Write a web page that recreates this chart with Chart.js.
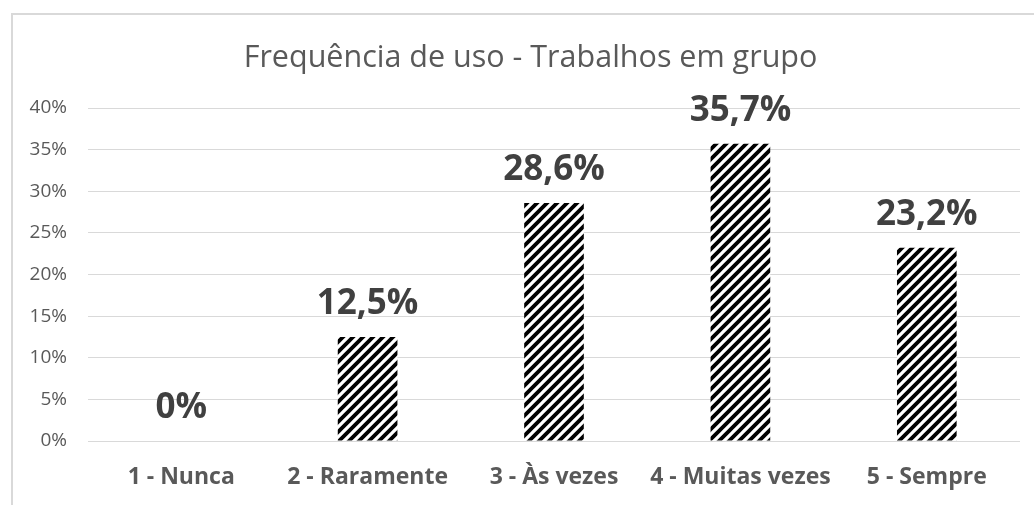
<!DOCTYPE html>
<html>
<head>
<meta charset="utf-8">
<script src="https://cdn.jsdelivr.net/npm/chart.js@4"></script>
<style>
html, body { margin: 0; padding: 0; background: #fff; }
#wrap { position: relative; width: 1034px; height: 505px; overflow: hidden; }
#frame { position: absolute; left: 11px; top: 13px; width: 1040px; height: 520px;
  border-top: 2px solid #d9d9d9; border-left: 2px solid #d9d9d9; box-sizing: border-box; }
canvas { position: absolute; left: 0; top: 0; }
</style>
</head>
<body>
<div id="wrap">
  <div id="frame"></div>
  <canvas id="chart1" width="1034" height="505"></canvas>
</div>
<script>
const chartTitle = 'Frequência de uso - Trabalhos em grupo';
const categories = ['1 - Nunca', '2 - Raramente', '3 - Às vezes', '4 - Muitas vezes', '5 - Sempre'];
const percentages = [0, 12.5, 28.6, 35.7, 23.2];
const valueLabels = ['0%', '12,5%', '28,6%', '35,7%', '23,2%'];
const yMin = 0, yMax = 40, yStep = 5;

// wide upward diagonal hatch, like the excel pattern fill
function makeHatch() {
  const size = 10;
  const c = document.createElement('canvas');
  c.width = size; c.height = size;
  const g = c.getContext('2d');
  g.fillStyle = '#fff';
  g.fillRect(0, 0, size, size);
  g.strokeStyle = '#000';
  g.lineWidth = 3.8;
  g.beginPath();
  g.moveTo(-size / 2, size / 2); g.lineTo(size / 2, -size / 2);
  g.moveTo(0, size); g.lineTo(size, 0);
  g.moveTo(size / 2, size * 1.5); g.lineTo(size * 1.5, size / 2);
  g.stroke();
  return document.getElementById('chart1').getContext('2d').createPattern(c, 'repeat');
}

// title is centred on the whole frame, not on the plot, so draw it here
const frameTitle = {
  id: 'frameTitle',
  afterDraw(chart) {
    const ctx = chart.ctx;
    ctx.save();
    ctx.font = '30.5px "Open Sans"';
    ctx.fillStyle = '#595959';
    ctx.textAlign = 'center';
    ctx.textBaseline = 'middle';
    ctx.fillText(chartTitle, 530.5, 58);
    ctx.restore();
  }
};

const barLabels = {
  id: 'barLabels',
  afterDatasetsDraw(chart) {
    const ctx = chart.ctx;
    const meta = chart.getDatasetMeta(0);
    ctx.save();
    ctx.font = 'bold 35px "Open Sans"';
    ctx.fillStyle = '#404040';
    ctx.textAlign = 'center';
    ctx.textBaseline = 'middle';
    meta.data.forEach((bar, i) => {
      ctx.fillText(valueLabels[i], bar.x, bar.y - 33);
    });
    ctx.restore();
  }
};

new Chart(document.getElementById('chart1'), {
  type: 'bar',
  data: {
    labels: categories,
    datasets: [{
      data: percentages,
      backgroundColor: makeHatch(),
      borderWidth: 0,
      categoryPercentage: 1,
      barPercentage: 0.32
    }]
  },
  options: {
    responsive: false,
    animation: false,
    layout: { padding: { top: 108, right: 14, bottom: 0, left: 0 } },
    plugins: {
      legend: { display: false },
      tooltip: { enabled: false },
      title: { display: false }
    },
    scales: {
      y: {
        min: yMin,
        max: yMax,
        ticks: {
          stepSize: yStep,
          color: '#595959',
          padding: 21,
          font: { family: '"Open Sans"', size: 19 },
          callback: v => v + '%'
        },
        grid: { color: '#d9d9d9', lineWidth: 1, drawTicks: false },
        border: { display: false },
        afterFit: s => { s.width = 88; }
      },
      x: {
        ticks: {
          color: '#595959',
          padding: 23,
          maxRotation: 0,
          minRotation: 0,
          autoSkip: false,
          font: { family: '"Open Sans"', size: 23, weight: 'bold' }
        },
        grid: { display: false, drawTicks: false },
        border: { display: false },
        afterFit: s => { s.height = 64; }
      }
    }
  },
  plugins: [barLabels, frameTitle]
});
</script>
</body>
</html>
